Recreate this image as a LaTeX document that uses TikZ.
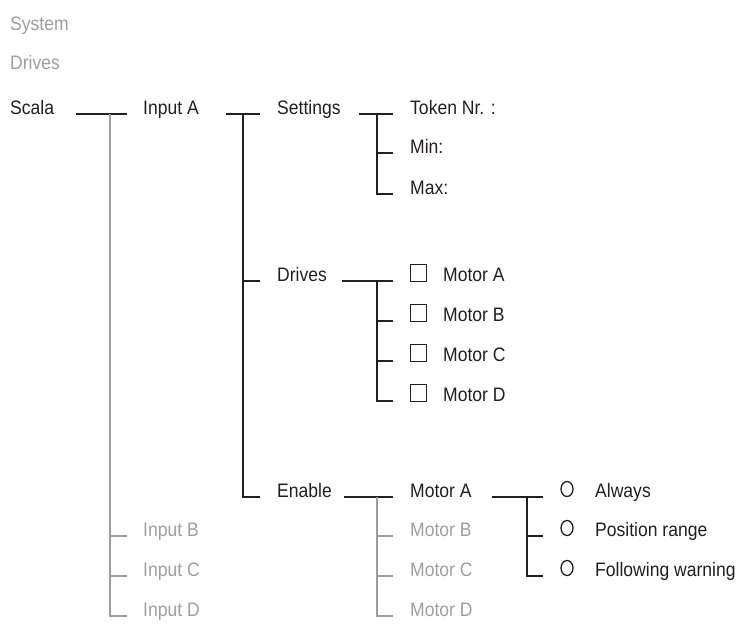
\documentclass[tikz,border=0pt]{standalone}
\usepackage{fontspec}
\setmainfont{Liberation Sans}[FakeStretch=0.9]
\usepackage{tikz}
\usetikzlibrary{positioning,calc,shapes.geometric}
\usepackage{xcolor}
\definecolor{menu-black}{RGB}{35,31,32}
\definecolor{menu-grey}{RGB}{158,158,160}

\tikzset{
  item/.style={anchor=base west, inner sep=0pt, text=menu-black, font=\fontsize{19.5}{22}\selectfont},
  itemoff/.style={item, text=menu-grey},
  branch/.style={draw=menu-black, line width=1.6pt},
  branchoff/.style={draw=menu-grey, line width=1.6pt},
  checkbox/.style={draw=menu-black, line width=1.3pt, minimum width=16pt, minimum height=17pt, inner sep=0pt, anchor=south west},
  radio/.style={ellipse, draw=menu-black, line width=1.3pt, minimum width=12pt, minimum height=15pt, inner sep=0pt}
}

\begin{document}
\begin{tikzpicture}[x=1pt, y=-1pt]
    \useasboundingbox (0,0) rectangle (744,624);

    % Path above the tree
    \node[itemoff] (system) at (10,30) {System};
    \node[itemoff] (drivespath) at (10,69) {Drives};

    % Root and inputs
    \node[item] (scala) at (10,114) {Scala};
    \node[item] (inputA) at (143,114) {Input A};
    \node[itemoff] (inputB) at (143,536) {Input B};
    \node[itemoff] (inputC) at (143,576) {Input C};
    \node[itemoff] (inputD) at (143,616) {Input D};

    % Input A menu
    \node[item] (settings) at (277,114) {Settings};
    \node[item] (drives) at (277,281) {Drives};
    \node[item] (enable) at (277,497) {Enable};

    % Settings entries
    \node[item] (token) at (410,114) {Token Nr. :};
    \node[item] (min) at (410,153) {Min:};
    \node[item] (max) at (410,194) {Max:};

    % Drives entries
    \node[checkbox] (boxA) at (410,282) {};
    \node[checkbox] (boxB) at (410,322) {};
    \node[checkbox] (boxC) at (410,362) {};
    \node[checkbox] (boxD) at (410,402) {};
    \node[item] (drvA) at (443,281) {Motor A};
    \node[item] (drvB) at (443,321) {Motor B};
    \node[item] (drvC) at (443,361) {Motor C};
    \node[item] (drvD) at (443,401) {Motor D};

    % Enable entries
    \node[item] (motA) at (410,497) {Motor A};
    \node[itemoff] (motB) at (410,536) {Motor B};
    \node[itemoff] (motC) at (410,576) {Motor C};
    \node[itemoff] (motD) at (410,616) {Motor D};

    % Motor A options
    \node[radio] (radA) at (567,489) {};
    \node[radio] (radB) at (567,528) {};
    \node[radio] (radC) at (567,568) {};
    \node[item] (always) at (595,497) {Always};
    \node[item] (posrange) at (595,536) {Position range};
    \node[item] (follow) at (595,576) {Following warning};

    % Connections
    \draw[branch] ([xshift=22pt]scala.base east) -- ([xshift=-16pt]inputA.base west);
    \draw[branchoff] ([xshift=-33pt]inputA.base west) |- ([xshift=-16pt]inputD.base west);
    \draw[branchoff] ([xshift=-33pt]inputB.base west) -- ([xshift=-16pt]inputB.base west);
    \draw[branchoff] ([xshift=-33pt]inputC.base west) -- ([xshift=-16pt]inputC.base west);

    \draw[branch] ([xshift=27pt]inputA.base east) -- ([xshift=-17pt]settings.base west);
    \draw[branch] ([xshift=-34pt]settings.base west) |- ([xshift=-17pt]enable.base west);
    \draw[branch] ([xshift=-34pt]drives.base west) -- ([xshift=-17pt]drives.base west);

    \draw[branch] ([xshift=18pt]settings.base east) -- ([xshift=-17pt]token.base west);
    \draw[branch] ([xshift=-33pt]token.base west) |- ([xshift=-17pt]max.base west);
    \draw[branch] ([xshift=-33pt]min.base west) -- ([xshift=-17pt]min.base west);

    \draw[branch] ([xshift=15pt]drives.base east) -- ([xshift=-17pt]drvA.base west -| boxA.west);
    \draw[branch] ([xshift=-33pt]drvA.base west -| boxA.west) |- ([xshift=-17pt]drvD.base west -| boxD.west);
    \draw[branch] ([xshift=-33pt]drvB.base west -| boxB.west) -- ([xshift=-17pt]drvB.base west -| boxB.west);
    \draw[branch] ([xshift=-33pt]drvC.base west -| boxC.west) -- ([xshift=-17pt]drvC.base west -| boxC.west);

    \draw[branch] ([xshift=12pt]enable.base east) -- ([xshift=-17pt]motA.base west);
    \draw[branchoff] ([xshift=-33pt]motA.base west) |- ([xshift=-17pt]motD.base west);
    \draw[branchoff] ([xshift=-33pt]motB.base west) -- ([xshift=-17pt]motB.base west);
    \draw[branchoff] ([xshift=-33pt]motC.base west) -- ([xshift=-17pt]motC.base west);

    \draw[branch] ([xshift=20pt]motA.base east) -- ([xshift=-52pt]always.base west);
    \draw[branch] ([xshift=-68pt]always.base west) |- ([xshift=-52pt]follow.base west);
    \draw[branch] ([xshift=-68pt]posrange.base west) -- ([xshift=-52pt]posrange.base west);
\end{tikzpicture}
\end{document}
